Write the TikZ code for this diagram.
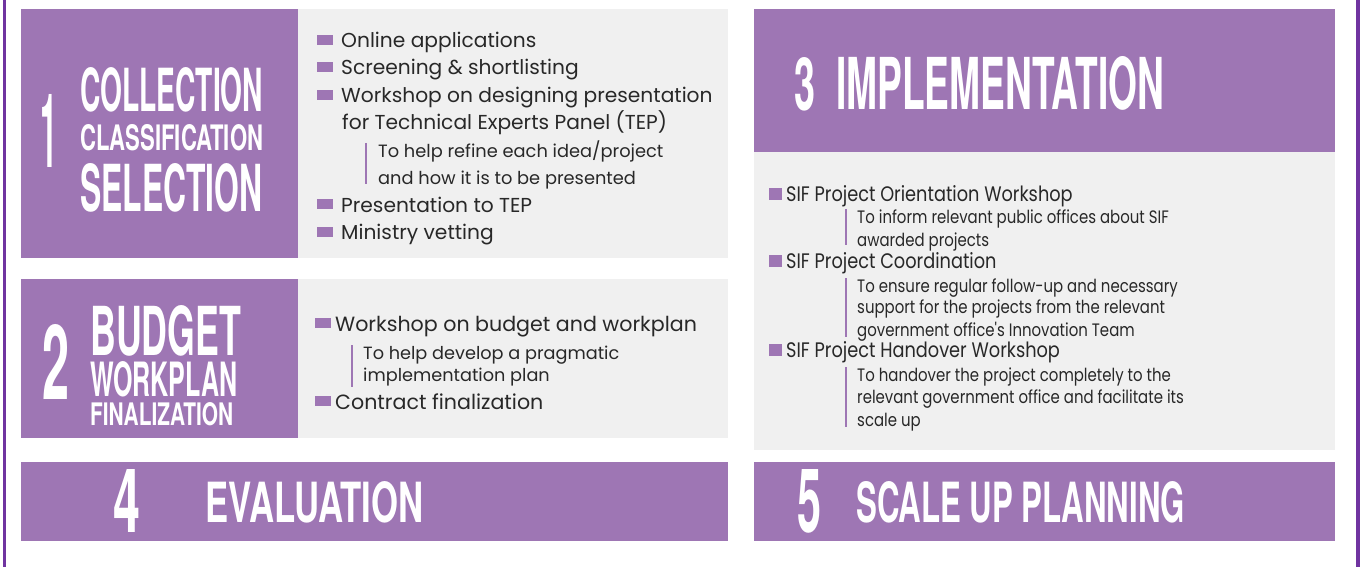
\documentclass[tikz,border=0pt]{standalone}
\usepackage{fontspec}
\usepackage{graphicx}
\usepackage{tikz}
\newfontfamily\headfont{TeX Gyre Heros}
\newfontfamily\itemfont{Poppins}

\definecolor{stagepurple}{RGB}{158,118,180}
\definecolor{stagegray}{RGB}{240,240,240}
\definecolor{edgepurple}{RGB}{112,52,160}
\definecolor{itemgray}{RGB}{40,40,40}

\tikzset{
  head/.style={anchor=south west, inner sep=0pt, text=white, font=\headfont\bfseries},
  item/.style={anchor=base west, inner sep=0pt, text=itemgray, font=\itemfont\fontsize{20.2}{24}\selectfont},
  note/.style={item, font=\itemfont\fontsize{17.8}{21}\selectfont},
  itemb/.style={item, font=\itemfont\fontsize{20.6}{24}\selectfont},
  noteb/.style={item, font=\itemfont\fontsize{17.7}{21}\selectfont},
  itemc/.style={item, font=\itemfont\fontsize{21}{25}\selectfont},
  notec/.style={item, font=\itemfont\fontsize{18}{21}\selectfont},
  bar/.style={draw=stagepurple, line width=2.5pt}
}
\newcommand{\hd}[3]{\resizebox{#1pt}{#2pt}{#3}}
\newcommand{\bul}[1]{\textcolor{stagepurple}{\rule[3pt]{16pt}{10pt}}\hspace{#1pt}}
\newcommand{\bulc}{\textcolor{stagepurple}{\rule[1pt]{13pt}{12pt}}\hspace{4pt}}
\newcommand{\cnd}[1]{\scalebox{0.845}[1]{#1}}
\newcommand{\cnn}[1]{\scalebox{0.83}[1]{#1}}

\begin{document}
\begin{tikzpicture}[x=1pt, y=-1pt]
\useasboundingbox (0,0) rectangle (1361,567);

% page edges
\fill[edgepurple] (2.5,0) rectangle (5.5,567);
\fill[edgepurple] (1356,0) rectangle (1359.5,567);

% stage boxes
\fill[stagepurple] (21,9) rectangle (298,258);
\fill[stagegray] (298,9) rectangle (728,258);
\fill[stagepurple] (21,279) rectangle (298,438);
\fill[stagegray] (298,279) rectangle (728,438);
\fill[stagepurple] (21,462) rectangle (728,541);
\fill[stagepurple] (754,9) rectangle (1335,152);
\fill[stagegray] (754,152) rectangle (1335,450);
\fill[stagepurple] (754,462) rectangle (1335,541);

% 1
\node[head] (n1) at (40,168) {\hd{17}{73}{1}};
\node[head] (h1a) at (80,112) {\hd{183}{44}{COLLECTION}};
\node[head] (h1b) at (80,151) {\hd{183}{26}{CLASSIFICATION}};
\node[head] (h1c) at (80,212) {\hd{182}{48}{SELECTION}};

\node[item] (i1a) at (317,48) {\bul{8}Online applications};
\node[item] (i1b) at (317,75) {\bul{8}Screening \& shortlisting};
\node[item] (i1c) at (317,103) {\bul{8}Workshop on designing presentation};
\node[item] (i1d) at (342,130) {for Technical Experts Panel (TEP)};
\draw[bar] (366,143) -- (366,184);
\node[note] (s1a) at (378,158) {To help refine each idea/project};
\node[note] (s1b) at (378,185) {and how it is to be presented};
\node[item] (i1e) at (317,212) {\bul{8}Presentation to TEP};
\node[item] (i1f) at (317,240) {\bul{8}Ministry vetting};

% 2
\node[head] (n2) at (42,400) {\hd{27}{75}{2}};
\node[head] (h2a) at (90,357) {\hd{151}{50}{BUDGET}};
\node[head] (h2b) at (90,397) {\hd{147}{35}{WORKPLAN}};
\node[head] (h2c) at (90,426) {\hd{143}{23}{FINALIZATION}};

\node[itemb] (i2a) at (315,331) {\bul{4}Workshop on budget and workplan};
\draw[bar] (352,345) -- (352,387);
\node[noteb] (s2a) at (363,359) {To help develop a pragmatic};
\node[noteb] (s2b) at (363,381) {implementation plan};
\node[itemb] (i2b) at (315,409) {\bul{4}Contract finalization};

% 3
\node[head] (n3) at (794,111) {\hd{21}{53}{3}};
\node[head] (h3) at (836,111) {\hd{328}{53}{IMPLEMENTATION}};

\node[itemc] (i3a) at (769,201) {\bulc\cnd{SIF Project Orientation Workshop}};
\draw[bar] (846,209) -- (846,245);
\node[notec] (s3a) at (857,223) {\cnn{To inform relevant public offices about SIF}};
\node[notec] (s3b) at (857,246) {\cnn{awarded projects}};
\node[itemc] (i3b) at (769,268) {\bulc\cnd{SIF Project Coordination}};
\draw[bar] (846,278) -- (846,337);
\node[notec] (s3c) at (857,292) {\cnn{To ensure regular follow-up and necessary}};
\node[notec] (s3d) at (857,313) {\cnn{support for the projects from the relevant}};
\node[notec] (s3e) at (857,336) {\cnn{government office's Innovation Team}};
\node[itemc] (i3c) at (769,357) {\bulc\cnd{SIF Project Handover Workshop}};
\draw[bar] (846,367) -- (846,427);
\node[notec] (s3f) at (857,381) {\cnn{To handover the project completely to the}};
\node[notec] (s3g) at (857,403) {\cnn{relevant government office and facilitate its}};
\node[notec] (s3h) at (857,426) {\cnn{scale up}};

% 4 and 5
\node[head] (n4) at (113,533) {\hd{27}{63}{4}};
\node[head] (h4) at (205,523) {\hd{218}{41}{EVALUATION}};
\node[head] (n5) at (797,533) {\hd{24}{63}{5}};
\node[head] (h5) at (856,523) {\hd{329}{41}{SCALE UP PLANNING}};

\end{tikzpicture}
\end{document}
